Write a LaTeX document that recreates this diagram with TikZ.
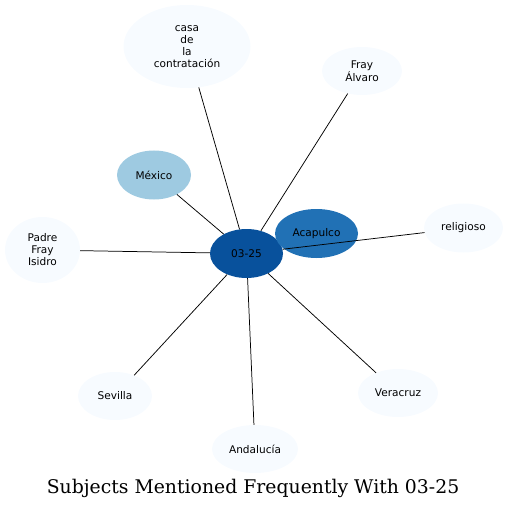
\documentclass[tikz,border=0pt]{standalone}
\usepackage{fontspec}
\usepackage{tikz}
\usetikzlibrary{shapes.geometric}
\newfontfamily\labelfont{DejaVu Sans}
\newfontfamily\titlefont{DejaVu Serif}
\definecolor{hubblue}{HTML}{08519C}
\definecolor{midblue}{HTML}{2171B5}
\definecolor{lightblue}{HTML}{9ECAE1}
\definecolor{paleblue}{HTML}{F7FBFF}

\begin{document}
\begin{tikzpicture}[
    x=1bp, y=-1bp,
    subj/.style={ellipse, fill=paleblue, inner sep=0pt, minimum width=78bp, minimum height=48bp, font=\labelfont\fontsize{10.6}{12}\selectfont, align=center},
    hub/.style={subj, fill=hubblue, minimum width=73bp, minimum height=49bp},
    link/.style={draw=black, line width=0.75pt}
]
\useasboundingbox (0,0) rectangle (508,510);

% Subject nodes
\node[hub] (hub) at (246.5, 253.5) {03-25};
\node[subj, fill=midblue, minimum width=83bp, minimum height=49bp] (acapulco) at (316.5, 233.5) {Acapulco};
\node[subj, fill=lightblue, minimum width=74bp, minimum height=49bp] (mexico) at (154, 175) {México};
\node[subj, minimum width=127bp, minimum height=83bp] (casa) at (187, 46.5) {casa\\de\\la\\contratación};
\node[subj, minimum width=80bp] (fray) at (362, 71) {Fray\\Álvaro};
\node[subj, minimum width=79bp, minimum height=49bp] (religioso) at (463.5, 228) {religioso};
\node[subj, minimum width=75bp, minimum height=66bp] (padre) at (42.5, 250) {Padre\\Fray\\Isidro};
\node[subj, minimum width=74bp] (sevilla) at (115, 396) {Sevilla};
\node[subj, minimum width=86bp] (andalucia) at (255, 449) {Andalucía};
\node[subj, minimum width=80bp] (veracruz) at (398, 393) {Veracruz};

% Connections
\draw[link] (hub) -- (casa);
\draw[link] (hub) -- (fray);
\draw[link] (hub) -- (mexico);
\draw[link] (hub) -- (religioso);
\draw[link] (hub) -- (padre);
\draw[link] (hub) -- (sevilla);
\draw[link] (hub) -- (andalucia);
\draw[link] (hub) -- (veracruz);

% Title
\node[font=\titlefont\fontsize{18.9}{22}\selectfont] (title) at (253, 488) {Subjects Mentioned Frequently With 03-25};
\end{tikzpicture}
\end{document}
